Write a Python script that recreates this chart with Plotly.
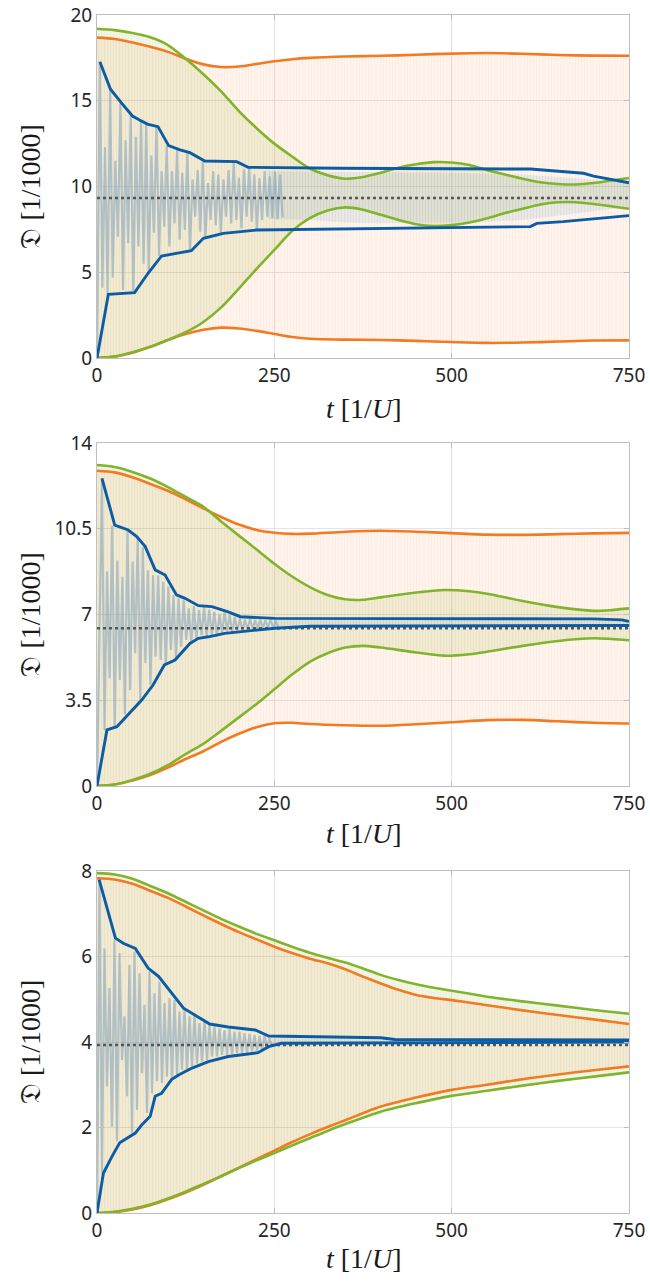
import numpy as np
import plotly.graph_objects as go

# ---------------- data ----------------
X_TICKS = [0, 250, 500, 750]
T_END = 750

# Panel 1
p1_yticks = [0, 5, 10, 15, 20]
p1_mean = 9.33
p1_or_up_t = [0, 25, 50, 75, 100, 125, 150, 175, 200, 225, 250, 275, 300, 350, 400, 450, 500, 550, 600, 650, 700, 750]
p1_or_up_v = [18.68, 18.6, 18.4, 18.15, 17.85, 17.45, 17.12, 16.97, 17.0, 17.15, 17.3, 17.42, 17.5, 17.58, 17.62, 17.68, 17.75, 17.78, 17.74, 17.67, 17.63, 17.62]
p1_or_lo_t = [0, 25, 50, 75, 100, 125, 150, 175, 200, 225, 250, 275, 300, 350, 400, 450, 500, 550, 600, 650, 700, 750]
p1_or_lo_v = [0, 0.08, 0.3, 0.65, 1.05, 1.4, 1.65, 1.77, 1.72, 1.58, 1.4, 1.22, 1.12, 1.07, 1.05, 1.0, 0.93, 0.88, 0.9, 0.96, 1.02, 1.03]
p1_gr_up_t = [0, 25, 50, 75, 100, 125, 150, 175, 200, 225, 250, 275, 300, 325, 350, 375, 400, 425, 450, 475, 500, 525, 550, 575, 600, 625, 650, 675, 700, 725, 750]
p1_gr_up_v = [19.2, 19.12, 18.95, 18.7, 18.25, 17.45, 16.55, 15.55, 14.4, 13.4, 12.5, 11.75, 11.05, 10.65, 10.45, 10.55, 10.8, 11.1, 11.3, 11.42, 11.4, 11.25, 10.95, 10.7, 10.45, 10.25, 10.15, 10.12, 10.2, 10.35, 10.5]
p1_gr_lo_t = [0, 25, 50, 75, 100, 125, 150, 175, 200, 225, 250, 275, 300, 325, 350, 375, 400, 425, 450, 475, 500, 525, 550, 575, 600, 625, 650, 675, 700, 725, 750]
p1_gr_lo_v = [0, 0.08, 0.33, 0.65, 1.05, 1.5, 2.1, 2.95, 4.05, 5.2, 6.3, 7.4, 8.15, 8.6, 8.78, 8.65, 8.35, 8.05, 7.8, 7.7, 7.75, 7.9, 8.15, 8.45, 8.7, 8.95, 9.08, 9.08, 8.98, 8.85, 8.7]
p1_bl_up_t = [4, 19, 35, 50, 60, 71, 86, 101, 117, 131, 152, 197, 213, 342, 611, 686, 700, 750]
p1_bl_up_v = [17.28, 15.67, 14.85, 14.11, 13.88, 13.64, 13.49, 12.38, 12.13, 11.97, 11.49, 11.45, 11.12, 11.06, 11.02, 10.77, 10.6, 10.22]
p1_bl_lo_t = [0, 16, 53, 72, 91, 133, 150, 178, 225, 343, 611, 620, 657, 750]
p1_bl_lo_v = [0, 3.71, 3.81, 4.94, 5.95, 6.26, 6.98, 7.27, 7.46, 7.52, 7.66, 7.85, 7.95, 8.3]
p1_spk_up = [17.28, 12.3, 15.67, 11.5, 14.85, 12.7, 14.11, 12.9, 13.88, 13.64, 11.8, 13.49, 10.9, 12.38,
             10.9, 12.13, 10.8, 11.97, 10.4, 10.96, 11.49, 10.2, 10.9, 10.7, 10.4, 10.96, 11.45, 10.5,
             11.0, 11.12, 10.7, 10.5, 10.9, 10.6, 10.85, 10.7]
p1_spk_dn = [4.1, 3.71, 4.7, 7.07, 3.96, 6.7, 3.81, 6.5, 5.5, 4.94, 7.3, 5.95, 7.65, 6.5, 7.85, 6.9,
             7.46, 6.26, 8.24, 7.36, 6.98, 8.05, 7.75, 7.27, 8.24, 7.85, 8.05, 7.55, 8.24, 7.95, 7.46,
             8.05, 8.24, 8.15, 8.1, 8.2]
p1_spk_t0, p1_spk_dt = 4.0, 7.26
p1_band_t = [240, 300, 350, 400, 450, 500, 550, 600, 650, 700, 750]
p1_band_hi = [10.9, 10.85, 10.85, 10.85, 10.8, 10.8, 10.75, 10.7, 10.55, 10.4, 10.25]
p1_band_lo = [8.1, 8.05, 7.9, 7.85, 7.9, 7.9, 7.95, 8.05, 8.3, 8.55, 8.8]

# Panel 2
p2_yticks = [0, 3.5, 7, 10.5, 14]
p2_mean = 6.44
p2_or_up_t = [0, 25, 50, 75, 100, 125, 150, 175, 200, 225, 250, 275, 300, 350, 400, 450, 500, 550, 600, 650, 700, 750]
p2_or_up_v = [12.87, 12.8, 12.6, 12.33, 12.05, 11.7, 11.33, 10.98, 10.67, 10.45, 10.34, 10.29, 10.3, 10.38, 10.42, 10.38, 10.32, 10.26, 10.25, 10.28, 10.31, 10.33]
p2_or_lo_t = [0, 25, 50, 75, 100, 125, 150, 175, 200, 225, 250, 275, 300, 350, 400, 450, 500, 550, 600, 650, 700, 750]
p2_or_lo_v = [0, 0.06, 0.22, 0.45, 0.75, 1.1, 1.42, 1.8, 2.13, 2.4, 2.56, 2.58, 2.53, 2.48, 2.46, 2.52, 2.6, 2.69, 2.7, 2.64, 2.58, 2.55]
p2_gr_up_t = [0, 25, 50, 75, 100, 125, 150, 175, 200, 225, 250, 275, 300, 325, 350, 375, 400, 450, 490, 525, 550, 600, 650, 700, 725, 750]
p2_gr_up_v = [13.1, 13.02, 12.82, 12.55, 12.2, 11.8, 11.4, 10.8, 10.22, 9.65, 9.07, 8.55, 8.12, 7.8, 7.62, 7.6, 7.7, 7.9, 8.0, 7.95, 7.85, 7.55, 7.3, 7.15, 7.18, 7.25]
p2_gr_lo_t = [0, 25, 50, 75, 100, 125, 150, 175, 200, 225, 250, 275, 300, 325, 350, 375, 400, 450, 490, 525, 550, 600, 650, 700, 725, 750]
p2_gr_lo_v = [0, 0.06, 0.25, 0.5, 0.85, 1.3, 1.72, 2.25, 2.8, 3.35, 3.95, 4.55, 5.07, 5.42, 5.65, 5.72, 5.65, 5.45, 5.32, 5.38, 5.48, 5.72, 5.92, 6.03, 6.0, 5.95]
p2_bl_up_t = [7, 25, 44, 56, 68, 82, 96, 112, 124, 143, 162, 185, 202, 251, 700, 740, 750]
p2_bl_up_v = [12.56, 10.65, 10.45, 10.18, 9.77, 8.82, 8.61, 7.8, 7.66, 7.36, 7.32, 7.11, 6.91, 6.84, 6.82, 6.78, 6.72]
p2_bl_lo_t = [0, 14, 28, 44, 63, 79, 95, 110, 131, 143, 157, 180, 202, 251, 300, 750]
p2_bl_lo_v = [0, 2.29, 2.42, 2.9, 3.51, 4.12, 4.94, 5.14, 5.82, 6.03, 6.09, 6.23, 6.3, 6.44, 6.52, 6.55]
p2_spk_up = [12.56, 8.75, 10.62, 9.2, 8.54, 10.42, 9.16, 10.16, 9.75, 8.8, 8.6, 8.6, 8.34, 8.14, 7.78,
             7.66, 7.59, 7.25, 7.34, 7.18, 7.3, 7.2, 7.11, 7.0, 7.1, 6.98, 6.9, 6.84, 6.8, 6.82, 6.78,
             6.8, 6.76, 6.78, 6.75]
p2_spk_dn = [2.29, 4.4, 2.45, 4.33, 2.92, 3.92, 5.42, 3.52, 5.01, 4.13, 5.28, 5.14, 4.95, 5.55, 5.16,
             5.69, 5.96, 5.83, 5.96, 6.16, 6.04, 6.16, 6.1, 6.23, 6.3, 6.24, 6.32, 6.34, 6.38, 6.42,
             6.4, 6.44, 6.45, 6.46, 6.47]
p2_spk_t0, p2_spk_dt = 7.0, 7.2
p2_band_t = [250, 500, 750]
p2_band_hi = [6.8, 6.78, 6.77]
p2_band_lo = [6.46, 6.5, 6.52]

# Panel 3
p3_yticks = [0, 2, 4, 6, 8]
p3_mean = 3.93
p3_or_up_t = [0, 25, 50, 75, 100, 125, 150, 175, 200, 225, 250, 275, 300, 325, 350, 375, 400, 425, 450, 475, 500, 550, 600, 650, 700, 750]
p3_or_up_v = [7.83, 7.8, 7.7, 7.54, 7.37, 7.17, 6.96, 6.76, 6.57, 6.4, 6.23, 6.08, 5.95, 5.84, 5.7, 5.53, 5.37, 5.22, 5.1, 5.03, 4.98, 4.86, 4.74, 4.63, 4.53, 4.42]
p3_or_lo_t = [0, 25, 50, 75, 100, 125, 150, 175, 200, 225, 250, 275, 300, 325, 350, 400, 450, 500, 550, 600, 650, 700, 750]
p3_or_lo_v = [0, 0.02, 0.08, 0.18, 0.32, 0.48, 0.66, 0.86, 1.06, 1.26, 1.46, 1.66, 1.84, 2.01, 2.17, 2.49, 2.7, 2.88, 3.0, 3.13, 3.24, 3.34, 3.43]
p3_gr_up_t = [0, 25, 50, 75, 100, 125, 150, 175, 200, 225, 250, 275, 300, 325, 350, 375, 400, 425, 450, 475, 500, 550, 600, 650, 700, 750]
p3_gr_up_v = [7.95, 7.92, 7.82, 7.65, 7.48, 7.28, 7.08, 6.88, 6.7, 6.53, 6.38, 6.23, 6.09, 5.97, 5.86, 5.72, 5.57, 5.45, 5.35, 5.27, 5.2, 5.06, 4.95, 4.85, 4.75, 4.66]
p3_gr_lo_t = [0, 25, 50, 75, 100, 125, 150, 175, 200, 225, 250, 275, 300, 325, 350, 400, 450, 500, 550, 600, 650, 700, 750]
p3_gr_lo_v = [0, 0.03, 0.1, 0.2, 0.34, 0.5, 0.68, 0.86, 1.05, 1.23, 1.4, 1.58, 1.75, 1.92, 2.08, 2.37, 2.57, 2.74, 2.86, 2.98, 3.09, 3.19, 3.29]
p3_bl_up_t = [3, 26, 37, 54, 72, 87, 122, 138, 159, 185, 223, 242, 400, 420, 750]
p3_bl_up_v = [7.8, 6.43, 6.31, 6.19, 5.73, 5.53, 4.79, 4.63, 4.42, 4.35, 4.28, 4.14, 4.1, 4.06, 4.05]
p3_bl_lo_t = [0, 9, 21, 32, 54, 63, 75, 82, 91, 105, 115, 134, 157, 185, 227, 242, 260, 750]
p3_bl_lo_v = [0, 0.93, 1.32, 1.64, 1.87, 2.06, 2.26, 2.73, 2.8, 3.12, 3.23, 3.39, 3.54, 3.66, 3.75, 3.89, 3.97, 4.0]
p3_spk_up = [7.8, 6.19, 5.26, 6.39, 6.08, 4.6, 5.8, 6.11, 5.61, 4.87, 5.65, 5.14, 5.41, 4.91, 5.02,
             4.98, 4.71, 4.8, 4.6, 4.67, 4.44, 4.52, 4.4, 4.36, 4.32, 4.28, 4.3, 4.24, 4.24, 4.2, 4.19,
             4.16, 4.14, 4.14, 4.09]
p3_spk_dn = [0.95, 2.96, 2.02, 1.68, 3.58, 2.73, 1.88, 2.41, 3.27, 2.34, 2.8, 3.08, 3.04, 3.19, 3.12,
             3.23, 3.35, 3.31, 3.43, 3.5, 3.54, 3.58, 3.66, 3.66, 3.7, 3.7, 3.72, 3.74, 3.74, 3.76, 3.78,
             3.78, 3.8, 3.85, 3.88]
p3_spk_t0, p3_spk_dt = 3.5, 7.05
p3_band_t = [248, 400, 750]
p3_band_hi = [4.09, 4.06, 4.04]
p3_band_lo = [3.88, 3.96, 3.98]

# ---------------- style ----------------
W, H = 650, 1282
PLOT_L, PLOT_R = 97, 629
PANELS_PX = [(15, 358), (443, 786), (871, 1213)]   # top, bottom in px
XLABEL_Y = [408, 833, 1258]
C_OR = "#F27A21"
C_GR = "#80B42C"
C_BL = "#0B5BA5"
C_SPK = "rgba(125,158,188,0.55)"
C_MEAN = "#555555"
GRID = "#E4E4E4"
FRAME = "#BFBFBF"
TICKFONT = dict(family="Noto Sans", size=19, color="#262626")
LABELFONT = dict(family="Liberation Serif", size=28, color="#1a1a1a")

panels = [
    dict(yt=p1_yticks, mean=p1_mean,
         or_up=(p1_or_up_t, p1_or_up_v), or_lo=(p1_or_lo_t, p1_or_lo_v),
         gr_up=(p1_gr_up_t, p1_gr_up_v), gr_lo=(p1_gr_lo_t, p1_gr_lo_v),
         bl_up=(p1_bl_up_t, p1_bl_up_v), bl_lo=(p1_bl_lo_t, p1_bl_lo_v),
         spk=(p1_spk_up, p1_spk_dn, p1_spk_t0, p1_spk_dt),
         band=(p1_band_t, p1_band_hi, p1_band_lo)),
    dict(yt=p2_yticks, mean=p2_mean,
         or_up=(p2_or_up_t, p2_or_up_v), or_lo=(p2_or_lo_t, p2_or_lo_v),
         gr_up=(p2_gr_up_t, p2_gr_up_v), gr_lo=(p2_gr_lo_t, p2_gr_lo_v),
         bl_up=(p2_bl_up_t, p2_bl_up_v), bl_lo=(p2_bl_lo_t, p2_bl_lo_v),
         spk=(p2_spk_up, p2_spk_dn, p2_spk_t0, p2_spk_dt),
         band=(p2_band_t, p2_band_hi, p2_band_lo)),
    dict(yt=p3_yticks, mean=p3_mean,
         or_up=(p3_or_up_t, p3_or_up_v), or_lo=(p3_or_lo_t, p3_or_lo_v),
         gr_up=(p3_gr_up_t, p3_gr_up_v), gr_lo=(p3_gr_lo_t, p3_gr_lo_v),
         bl_up=(p3_bl_up_t, p3_bl_up_v), bl_lo=(p3_bl_lo_t, p3_bl_lo_v),
         spk=(p3_spk_up, p3_spk_dn, p3_spk_t0, p3_spk_dt),
         band=(p3_band_t, p3_band_hi, p3_band_lo)),
]


def poly(up, lo):
    return list(up[0]) + list(lo[0])[::-1], list(up[1]) + list(lo[1])[::-1]


fig = go.Figure()
annotations = []
for i, p in enumerate(panels):
    n = "" if i == 0 else str(i + 1)
    xa, ya = "x" + n, "y" + n
    # orange oscillation region
    px_, py_ = poly(p["or_up"], p["or_lo"])
    fig.add_trace(go.Scatter(x=px_, y=py_, xaxis=xa, yaxis=ya, mode="lines", line=dict(width=0),
                             fill="toself", fillcolor="rgba(245,135,60,0.09)",
                             fillpattern=dict(shape="|", size=3, solidity=0.35,
                                              fgcolor="rgba(245,135,60,0.13)",
                                              bgcolor="rgba(245,135,60,0.09)"),
                             hoverinfo="skip"))
    # green oscillation region
    px_, py_ = poly(p["gr_up"], p["gr_lo"])
    fig.add_trace(go.Scatter(x=px_, y=py_, xaxis=xa, yaxis=ya, mode="lines", line=dict(width=0),
                             fill="toself", fillcolor="rgba(150,175,50,0.13)",
                             fillpattern=dict(shape="|", size=3, solidity=0.35,
                                              fgcolor="rgba(150,175,50,0.12)",
                                              bgcolor="rgba(150,175,50,0.13)"),
                             hoverinfo="skip"))
    # dense late blue oscillation
    bt, bh, bl = p["band"]
    fig.add_trace(go.Scatter(x=list(bt) + list(bt)[::-1], y=list(bh) + list(bl)[::-1],
                             xaxis=xa, yaxis=ya, mode="lines", line=dict(width=0),
                             fill="toself", fillcolor="rgba(140,175,210,0.16)",
                             fillpattern=dict(shape="|", size=3, solidity=0.5,
                                              fgcolor="rgba(115,155,195,0.30)",
                                              bgcolor="rgba(140,175,210,0.12)"),
                             hoverinfo="skip"))
    # early blue oscillation spikes
    su, sd, t0, dt = p["spk"]
    tu = t0 + dt * np.arange(len(su))
    td = t0 + dt / 2 + dt * np.arange(len(sd))
    sx, sy = [0.0], [0.0]
    for k in range(len(su)):
        sx += [tu[k], td[k]]
        sy += [su[k], sd[k]]
    fig.add_trace(go.Scatter(x=sx, y=sy, xaxis=xa, yaxis=ya, mode="lines",
                             line=dict(color=C_SPK, width=2.2), hoverinfo="skip"))
    # envelopes
    for key, col in [("or_lo", C_OR), ("or_up", C_OR), ("gr_lo", C_GR), ("gr_up", C_GR)]:
        fig.add_trace(go.Scatter(x=p[key][0], y=p[key][1], xaxis=xa, yaxis=ya, mode="lines",
                                 line=dict(color=col, width=2.6, shape="spline", smoothing=0.8)))
    fig.add_trace(go.Scatter(x=[0, T_END], y=[p["mean"], p["mean"]], xaxis=xa, yaxis=ya, mode="lines",
                             line=dict(color=C_MEAN, width=2.4, dash="dot")))
    for key in ["bl_lo", "bl_up"]:
        fig.add_trace(go.Scatter(x=p[key][0], y=p[key][1], xaxis=xa, yaxis=ya, mode="lines",
                                 line=dict(color=C_BL, width=2.9)))

    top, bot = PANELS_PX[i]
    dom_y = [1 - bot / H, 1 - top / H]
    axis_common = dict(showgrid=True, gridcolor=GRID, gridwidth=1, zeroline=False,
                       showline=True, linecolor=FRAME, linewidth=1, mirror="ticks",
                       ticks="inside", ticklen=5, tickcolor=FRAME, tickfont=TICKFONT,
                       automargin=False)
    fig.layout["xaxis" + n] = dict(domain=[PLOT_L / W, PLOT_R / W], anchor=ya, range=[0, T_END],
                                   tickvals=X_TICKS, **axis_common)
    yt = p["yt"]
    fig.layout["yaxis" + n] = dict(domain=dom_y, anchor=xa, range=[yt[0], yt[-1]],
                                   tickvals=yt, **axis_common)
    annotations.append(dict(xref="paper", yref="paper", x=30 / W, y=1 - (top + bot) / 2 / H,
                            text="𝔇 [1/1000]", textangle=-90, showarrow=False,
                            xanchor="center", yanchor="middle", font=LABELFONT))
    annotations.append(dict(xref="paper", yref="paper", x=(PLOT_L + PLOT_R) / 2 / W, y=1 - XLABEL_Y[i] / H,
                            text="<i>t</i> [1/<i>U</i>]", showarrow=False,
                            xanchor="center", yanchor="middle", font=LABELFONT))

fig.update_layout(width=W, height=H, margin=dict(l=0, r=0, t=0, b=0, autoexpand=False),
                  paper_bgcolor="white", plot_bgcolor="white", showlegend=False,
                  annotations=annotations)
fig.write_html("out.html")
